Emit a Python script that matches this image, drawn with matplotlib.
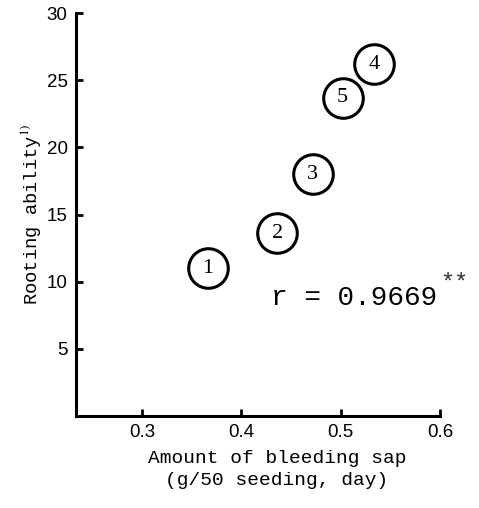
import matplotlib
matplotlib.use('Agg')
import matplotlib.pyplot as plt

# bleeding sap (g/50 seedling, day) vs rooting ability, cultivar no. 1-5
labels = ['1', '2', '3', '4', '5']
sap = [0.366, 0.436, 0.472, 0.534, 0.502]
rooting = [11.0, 13.6, 18.0, 26.2, 23.7]
r_text = 'r = 0.9669'

xticks = [0.3, 0.4, 0.5, 0.6]
yticks = [5, 10, 15, 20, 25, 30]

plt.rcParams['mathtext.fontset'] = 'stix'

fig = plt.figure(figsize=(4.79, 5.08), dpi=100)
ax = fig.add_axes([0.1587, 0.181, 0.760, 0.793])

ax.plot(sap, rooting, 'o', ms=28.5, mfc='white', mec='black', mew=2.2,
        linestyle='none', clip_on=False, zorder=3)
for lab, x, y in zip(labels, sap, rooting):
    ax.text(x, y, lab, ha='center', va='center', fontsize=16,
            family='Liberation Serif', zorder=4)

ax.text(0.43, 8.3, r_text, fontsize=20, family='Liberation Mono',
        ha='left', va='baseline')
ax.text(0.6005, 9.4, '**', fontsize=17, family='Liberation Mono',
        ha='left', va='baseline', color='#333333', clip_on=False)

ax.set_xlim(0.2337, 0.6)
ax.set_ylim(0, 30)
ax.set_xticks(xticks)
ax.set_xticklabels(['0.3', '0.4', '0.5', '0.6'])
ax.set_yticks(yticks)

for side in ['top', 'right']:
    ax.spines[side].set_visible(False)
for side in ['left', 'bottom']:
    ax.spines[side].set_linewidth(2.2)

ax.tick_params(direction='in', length=5, width=2, pad=6, labelsize=13.5)
for lbl in ax.get_xticklabels() + ax.get_yticklabels():
    lbl.set_family('Liberation Sans')

ax.set_xlabel('Amount of bleeding sap\n(g/50 seeding, day)',
              family='Liberation Mono', fontsize=14, linespacing=1.35)
ax.xaxis.set_label_coords(0.552, -0.085, transform=ax.transAxes)
ax.xaxis.label.set_va('top')
ax.set_ylabel('Rooting ability$^{1)}$', family='Liberation Mono', fontsize=13.5)
ax.yaxis.set_label_coords(-0.125, 0.5)
ax.yaxis.label.set_va('center')

fig.savefig('out.png', dpi=100)
